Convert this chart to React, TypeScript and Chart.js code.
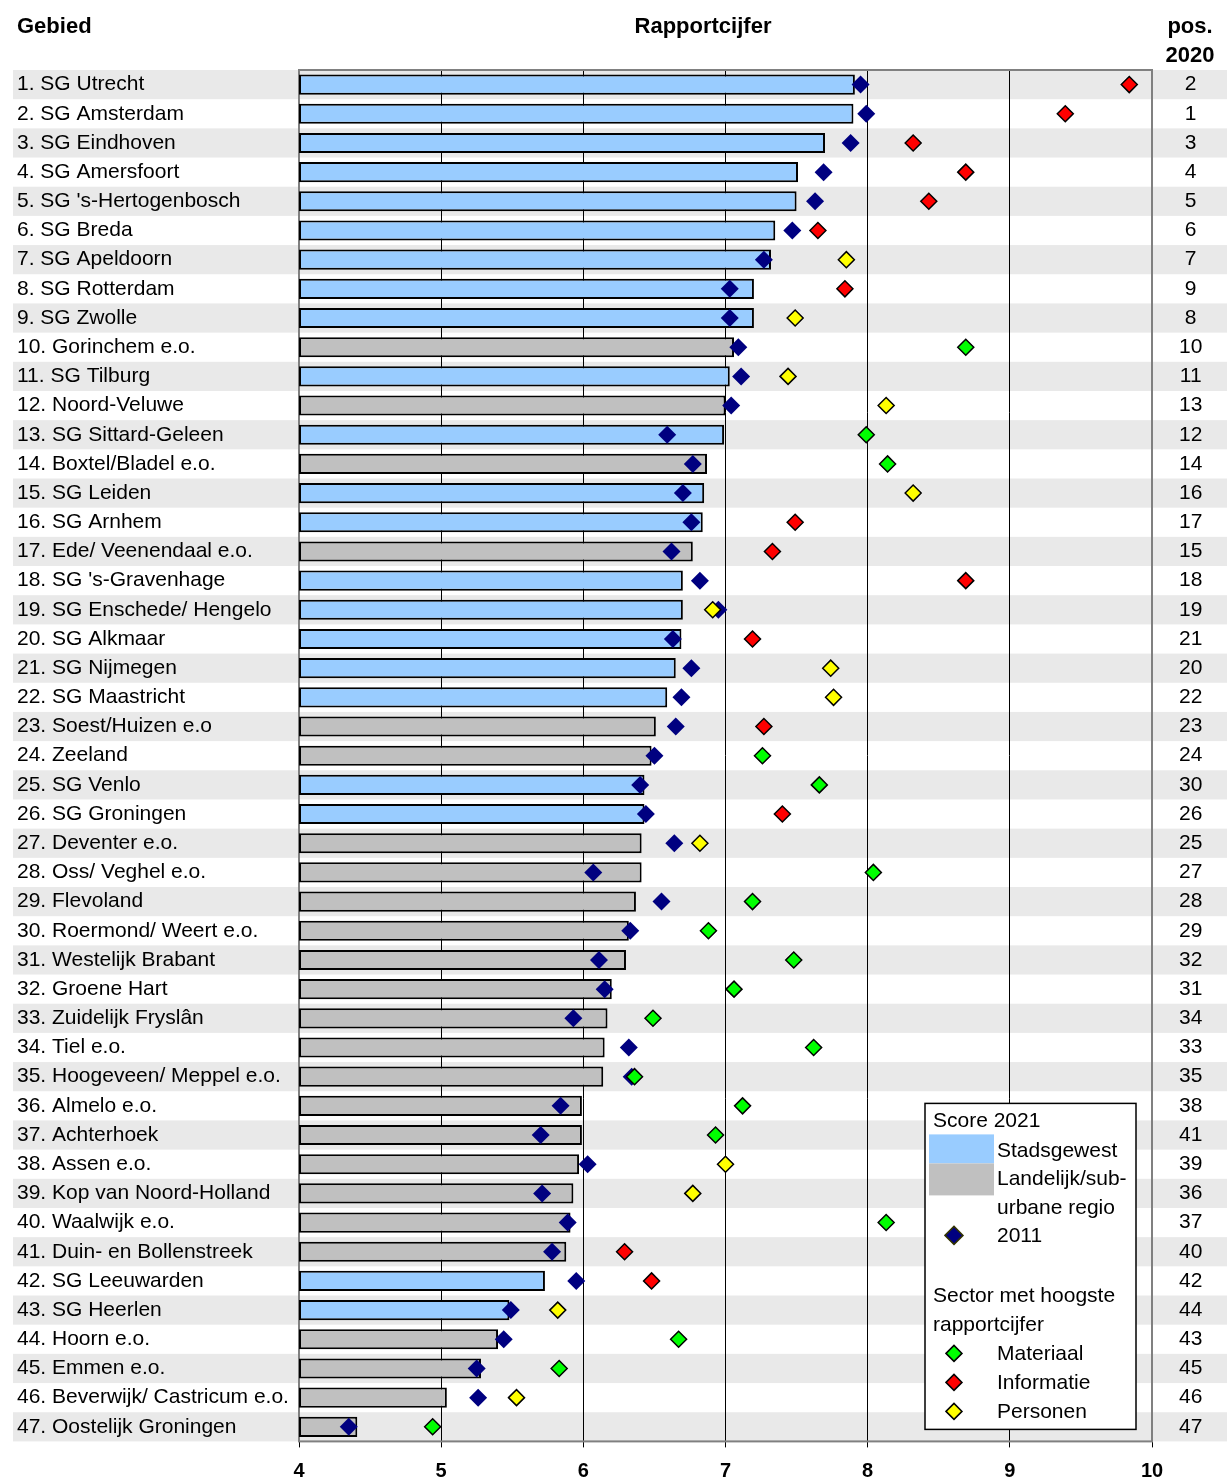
import React, { useEffect, useRef } from "react";
import { Chart, registerables } from "chart.js";

Chart.register(...registerables);

const FONT = "'Liberation Sans', Arial, Helvetica, sans-serif";

const regions = [
  "1. SG Utrecht", "2. SG Amsterdam", "3. SG Eindhoven", "4. SG Amersfoort",
  "5. SG 's-Hertogenbosch", "6. SG Breda", "7. SG Apeldoorn", "8. SG Rotterdam",
  "9. SG Zwolle", "10. Gorinchem e.o.", "11. SG Tilburg", "12. Noord-Veluwe",
  "13. SG Sittard-Geleen", "14. Boxtel/Bladel e.o.", "15. SG Leiden", "16. SG Arnhem",
  "17. Ede/ Veenendaal e.o.", "18. SG 's-Gravenhage", "19. SG Enschede/ Hengelo",
  "20. SG Alkmaar", "21. SG Nijmegen", "22. SG Maastricht", "23. Soest/Huizen e.o",
  "24. Zeeland", "25. SG Venlo", "26. SG Groningen", "27. Deventer e.o.",
  "28. Oss/ Veghel e.o.", "29. Flevoland", "30. Roermond/ Weert e.o.",
  "31. Westelijk Brabant", "32. Groene Hart", "33. Zuidelijk Fryslân", "34. Tiel e.o.",
  "35. Hoogeveen/ Meppel e.o.", "36. Almelo e.o.", "37. Achterhoek", "38. Assen e.o.",
  "39. Kop van Noord-Holland", "40. Waalwijk e.o.", "41. Duin- en Bollenstreek",
  "42. SG Leeuwarden", "43. SG Heerlen", "44. Hoorn e.o.", "45. Emmen e.o.",
  "46. Beverwijk/ Castricum e.o.", "47. Oostelijk Groningen",
];

// S = Stadsgewest, L = Landelijk/suburbane regio
const regionTypes = [
  "S", "S", "S", "S", "S", "S", "S", "S", "S", "L", "S", "L", "S", "L", "S", "S",
  "L", "S", "S", "S", "S", "S", "L", "L", "S", "S", "L", "L", "L", "L", "L", "L",
  "L", "L", "L", "L", "L", "L", "L", "L", "L", "S", "S", "L", "L", "L", "L",
];

const score2021 = [
  7.91, 7.90, 7.70, 7.51, 7.50, 7.35, 7.32, 7.20, 7.20, 7.06, 7.03, 7.00, 6.99, 6.87,
  6.85, 6.84, 6.77, 6.70, 6.70, 6.69, 6.65, 6.59, 6.51, 6.48, 6.43, 6.43, 6.41, 6.41,
  6.37, 6.32, 6.30, 6.20, 6.17, 6.15, 6.14, 5.99, 5.99, 5.97, 5.93, 5.91, 5.88, 5.73,
  5.48, 5.40, 5.28, 5.04, 4.41,
];

const score2011 = [
  7.95, 7.99, 7.88, 7.69, 7.63, 7.47, 7.27, 7.03, 7.03, 7.09, 7.11, 7.04, 6.59, 6.77,
  6.70, 6.76, 6.62, 6.82, 6.95, 6.63, 6.76, 6.69, 6.65, 6.50, 6.40, 6.44, 6.64, 6.07,
  6.55, 6.33, 6.11, 6.15, 5.93, 6.32, 6.34, 5.84, 5.70, 6.03, 5.71, 5.89, 5.78, 5.95,
  5.49, 5.44, 5.25, 5.26, 4.35,
];

const sectorScores = [
  9.84, 9.39, 8.32, 8.69, 8.43, 7.65, 7.85, 7.84, 7.49, 8.69, 7.44, 8.13, 7.99, 8.14,
  8.32, 7.49, 7.33, 8.69, 6.91, 7.19, 7.74, 7.76, 7.27, 7.26, 7.66, 7.40, 6.82, 8.04,
  7.19, 6.88, 7.48, 7.06, 6.49, 7.62, 6.36, 7.12, 6.93, 7.00, 6.77, 8.13, 6.29, 6.48,
  5.82, 6.67, 5.83, 5.53, 4.94,
];

// M = Materiaal, I = Informatie, P = Personen
const sectorKeys = [
  "I", "I", "I", "I", "I", "I", "P", "I", "P", "M", "P", "P", "M", "M", "P", "I",
  "I", "I", "P", "I", "P", "P", "I", "M", "M", "I", "P", "M", "M", "M", "M", "M",
  "M", "M", "M", "M", "M", "P", "P", "M", "I", "I", "P", "M", "M", "P", "M",
];

const pos2020 = [
  2, 1, 3, 4, 5, 6, 7, 9, 8, 10, 11, 13, 12, 14, 16, 17, 15, 18, 19, 21, 20, 22, 23, 24,
  30, 26, 25, 27, 28, 29, 32, 31, 34, 33, 35, 38, 41, 39, 36, 37, 40, 42, 44, 43, 45, 46, 47,
];

const xTicks = [4, 5, 6, 7, 8, 9, 10];

const TYPE_COLORS: Record<string, string> = { S: "#99ccff", L: "#c0c0c0" };
const SECTOR_COLORS: Record<string, string> = { M: "#00ff00", I: "#ff0000", P: "#ffff00" };
const NAVY = "#000080";

function diamond(ctx: CanvasRenderingContext2D, x: number, y: number, r: number, fill: string, stroke: string | null) {
  ctx.beginPath();
  ctx.moveTo(x - r, y);
  ctx.lineTo(x, y - r);
  ctx.lineTo(x + r, y);
  ctx.lineTo(x, y + r);
  ctx.closePath();
  ctx.fillStyle = fill;
  ctx.fill();
  if (stroke) {
    ctx.lineWidth = 1.5;
    ctx.strokeStyle = stroke;
    ctx.stroke();
  }
}

const decorPlugin = {
  id: "decor",
  beforeDraw(chart: any) {
    const ctx = chart.ctx as CanvasRenderingContext2D;
    const y = chart.scales.y;
    const n = regions.length;
    const h = (chart.chartArea.bottom - chart.chartArea.top) / n;
    ctx.save();
    ctx.fillStyle = "#e9e9e9";
    for (let i = 0; i < n; i += 2) {
      const cy = y.getPixelForValue(i);
      ctx.fillRect(13, cy - h / 2, chart.width - 13, h);
    }
    ctx.restore();
  },
  beforeDatasetsDraw(chart: any) {
    const ctx = chart.ctx as CanvasRenderingContext2D;
    const ca = chart.chartArea;
    ctx.save();
    ctx.strokeStyle = "#808080";
    ctx.lineWidth = 2;
    ctx.strokeRect(ca.left, ca.top, ca.right - ca.left, ca.bottom - ca.top);
    ctx.restore();
  },
  afterDraw(chart: any) {
    const ctx = chart.ctx as CanvasRenderingContext2D;
    const ca = chart.chartArea;
    ctx.save();
    // headers
    ctx.fillStyle = "#000";
    ctx.textBaseline = "middle";
    ctx.font = `bold 22px ${FONT}`;
    ctx.textAlign = "left";
    ctx.fillText("Gebied", 17, 27);
    ctx.textAlign = "center";
    ctx.fillText("Rapportcijfer", 703, 27);
    ctx.fillText("pos.", 1190, 27);
    ctx.fillText("2020", 1190, 56);

    // legend
    const L = ca.right - 227;
    const T = ca.bottom - 338;
    const W = 211;
    const H = 326;
    ctx.fillStyle = "#fff";
    ctx.fillRect(L, T, W, H);
    ctx.strokeStyle = "#000";
    ctx.lineWidth = 1.5;
    ctx.strokeRect(L, T, W, H);
    ctx.fillStyle = TYPE_COLORS.S;
    ctx.fillRect(L + 4, T + 31, 65, 29);
    ctx.fillStyle = TYPE_COLORS.L;
    ctx.fillRect(L + 4, T + 60, 65, 32);
    ctx.font = `21px ${FONT}`;
    ctx.textAlign = "left";
    ctx.fillStyle = "#000";
    ctx.fillText("Score 2021", L + 8, T + 18);
    ctx.fillText("Stadsgewest", L + 72, T + 48);
    ctx.fillText("Landelijk/sub-", L + 72, T + 76);
    ctx.fillText("urbane regio", L + 72, T + 105);
    ctx.fillText("2011", L + 72, T + 133);
    ctx.fillText("Sector met hoogste", L + 8, T + 193);
    ctx.fillText("rapportcijfer", L + 8, T + 222);
    ctx.fillText("Materiaal", L + 72, T + 251);
    ctx.fillText("Informatie", L + 72, T + 280);
    ctx.fillText("Personen", L + 72, T + 309);
    diamond(ctx, L + 29, T + 132, 9, NAVY, "#333300");
    diamond(ctx, L + 29, T + 250, 8, SECTOR_COLORS.M, "#000");
    diamond(ctx, L + 29, T + 279, 8, SECTOR_COLORS.I, "#000");
    diamond(ctx, L + 29, T + 308, 8, SECTOR_COLORS.P, "#000");
    ctx.restore();
  },
};

export default function App() {
  const ref = useRef<HTMLCanvasElement>(null);

  useEffect(() => {
    document.body.style.margin = "0";
    const canvas = ref.current;
    if (!canvas) return;
    const chart = new Chart(canvas, {
      type: "bar",
      data: {
        labels: regions,
        datasets: [
          {
            type: "line",
            label: "Sector met hoogste rapportcijfer",
            data: sectorScores,
            indexAxis: "y",
            showLine: false,
            pointStyle: "rectRot",
            pointRadius: 8,
            pointHoverRadius: 8,
            pointBackgroundColor: sectorKeys.map((k) => SECTOR_COLORS[k]),
            pointBorderColor: "#000",
            pointBorderWidth: 1.5,
            order: 1,
          } as any,
          {
            type: "line",
            label: "2011",
            data: score2011,
            indexAxis: "y",
            showLine: false,
            pointStyle: "rectRot",
            pointRadius: 9,
            pointHoverRadius: 9,
            pointBackgroundColor: NAVY,
            pointBorderColor: NAVY,
            pointBorderWidth: 0,
            order: 2,
          } as any,
          {
            type: "bar",
            label: "Score 2021",
            data: score2021.map((v) => [4, v]),
            backgroundColor: regionTypes.map((t) => TYPE_COLORS[t]),
            borderColor: "#000",
            borderWidth: 2,
            borderSkipped: false,
            barPercentage: 0.69,
            categoryPercentage: 1,
            order: 3,
          } as any,
        ],
      },
      options: {
        indexAxis: "y",
        responsive: false,
        animation: false,
        events: [],
        layout: { padding: { left: 17, top: 70, right: 0, bottom: 0 } },
        plugins: {
          legend: { display: false },
          tooltip: { enabled: false },
          title: { display: false },
        },
        scales: {
          x: {
            type: "linear",
            position: "bottom",
            min: 4,
            max: 10,
            afterBuildTicks: (s: any) => {
              s.ticks = xTicks.map((v) => ({ value: v }));
            },
            afterFit: (s: any) => {
              s.height = 38;
            },
            grid: { color: "#000", lineWidth: 1, drawTicks: true, tickLength: 6, tickColor: "#000" },
            border: { display: false },
            ticks: {
              color: "#000",
              font: { family: FONT, size: 20, weight: "bold" },
              padding: 12,
              maxRotation: 0,
            },
          },
          y: {
            type: "category",
            position: "left",
            offset: true,
            afterFit: (s: any) => {
              s.width = 282;
            },
            grid: { display: false, drawTicks: false },
            border: { display: false },
            ticks: {
              autoSkip: false,
              crossAlign: "far",
              padding: 0,
              color: "#000",
              font: { family: FONT, size: 21 },
            },
          },
          y2: {
            type: "category",
            position: "right",
            labels: pos2020.map(String),
            offset: true,
            afterFit: (s: any) => {
              s.width = 75;
            },
            grid: { display: false, drawTicks: false },
            border: { display: false },
            ticks: {
              autoSkip: false,
              crossAlign: "center",
              padding: 27,
              color: "#000",
              font: { family: FONT, size: 21 },
            },
          },
        },
      } as any,
      plugins: [decorPlugin],
    });
    return () => chart.destroy();
  }, []);

  return <canvas ref={ref} width={1227} height={1481} style={{ display: "block" }} />;
}
